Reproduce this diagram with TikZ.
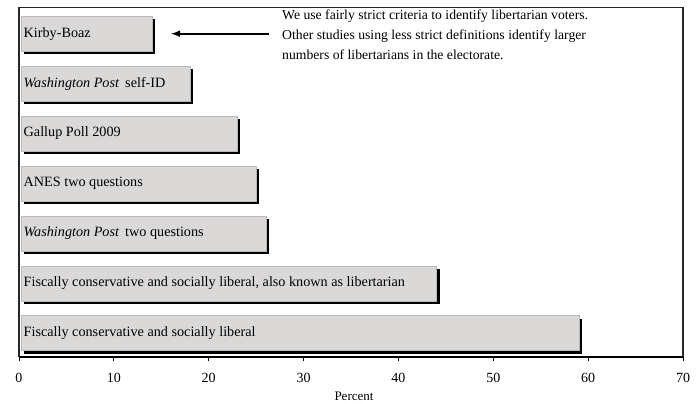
\documentclass[tikz,border=0pt]{standalone}
\usepackage{fontspec}
\setmainfont{Liberation Serif}
\usepackage{tikz}
\usetikzlibrary{shapes, arrows, positioning, shadows}
\definecolor{BarGray}{HTML}{DBD8D8}
\definecolor{FrameGray}{HTML}{1E1E1E}
\newcommand{\pct}{9.486pt}

\begin{document}
\begin{tikzpicture}[
			x=1pt, y=-1pt,
			bar/.style={rectangle, fill=BarGray, draw=BarGray!85!black, line width=0.4pt, minimum height=35pt, inner sep=0pt, anchor=north west, drop shadow={shadow xshift=3pt, shadow yshift=-3pt, fill=black, opacity=1}},
			barlabel/.style={font=\fontsize{14.2}{16}\selectfont, inner sep=0pt, anchor=west},
			ticklabel/.style={font=\fontsize{14}{16}\selectfont, inner sep=0pt},
			notetext/.style={font=\fontsize{13.7}{20}\selectfont, align=left, inner sep=0pt},
			]
			\useasboundingbox (0,0) rectangle (699,404);
			
			% bars, top to bottom
			\node (kb) [bar, minimum width=14*\pct-2pt] at (21,16) {};
			\node (wpself) [bar, minimum width=18*\pct-2pt, below=14.5pt of kb.south west, anchor=north west] {};
			\node (gallup) [bar, minimum width=23*\pct-2pt, below=14.5pt of wpself.south west, anchor=north west] {};
			\node (anes) [bar, minimum width=25*\pct-2pt, below=14.5pt of gallup.south west, anchor=north west] {};
			\node (wptwo) [bar, minimum width=26*\pct-2pt, below=14.5pt of anes.south west, anchor=north west] {};
			\node (fclib) [bar, minimum width=44*\pct-2pt, below=14.5pt of wptwo.south west, anchor=north west] {};
			\node (fc) [bar, minimum width=59*\pct-2pt, below=14.5pt of fclib.south west, anchor=north west] {};
			
			% bar labels
			\node (kblab) [barlabel, right=2.5pt of kb.west] {Kirby-Boaz};
			\node (wpselflab) [barlabel, right=2.5pt of wpself.west] {\textit{Washington Post}\, self-ID};
			\node (galluplab) [barlabel, right=2.5pt of gallup.west] {Gallup Poll 2009};
			\node (aneslab) [barlabel, right=2.5pt of anes.west] {ANES two questions};
			\node (wptwolab) [barlabel, right=2.5pt of wptwo.west] {\textit{Washington Post}\, two questions};
			\node (fcliblab) [barlabel, right=2.5pt of fclib.west] {Fiscally conservative and socially liberal, also known as libertarian};
			\node (fclab) [barlabel, right=2.5pt of fc.west] {Fiscally conservative and socially liberal};
			
			% note with arrow to the first bar
			\node (note) [notetext, anchor=north west] at (282,9.5) {We use fairly strict criteria to identify libertarian voters.\\Other studies using less strict definitions identify larger\\numbers of libertarians in the electorate.};
			\coordinate (kbtip) at ([xshift=19pt]kb.east);
			\coordinate (tail) at (note.west |- kbtip);
			\draw[->, >=latex, line width=2pt] ([xshift=-13pt]tail) -- (kbtip);
			
			% ticks and tick labels
			\draw[line width=0.8pt] (19,357) -- ++(0,4);
			\draw[line width=0.8pt] (113.86,357) -- ++(0,4);
			\draw[line width=0.8pt] (208.72,357) -- ++(0,4);
			\draw[line width=0.8pt] (303.58,357) -- ++(0,4);
			\draw[line width=0.8pt] (398.44,357) -- ++(0,4);
			\draw[line width=0.8pt] (493.30,357) -- ++(0,4);
			\draw[line width=0.8pt] (588.16,357) -- ++(0,4);
			\draw[line width=0.8pt] (683,357) -- ++(0,4);
			\node (t0) [ticklabel] at (19,378) {0};
			\node (t10) [ticklabel] at (113.86,378) {10};
			\node (t20) [ticklabel] at (208.72,378) {20};
			\node (t30) [ticklabel] at (303.58,378) {30};
			\node (t40) [ticklabel] at (398.44,378) {40};
			\node (t50) [ticklabel] at (493.30,378) {50};
			\node (t60) [ticklabel] at (588.16,378) {60};
			\node (t70) [ticklabel] at (683,378) {70};
			\node (xtitle) [ticklabel, font=\fontsize{13}{15}\selectfont] at (354,396) {Percent};
			
			% plot frame and axis, drawn last
			\draw[black!85, line width=1.5pt] (19,7.5) -- (683,7.5) -- (683,357);
			\draw[black!85, line width=1.5pt] (19,7.5) -- (19,357);
			\draw[black, line width=1.5pt] (19,357) -- (683,357);
		\end{tikzpicture}
\end{document}
